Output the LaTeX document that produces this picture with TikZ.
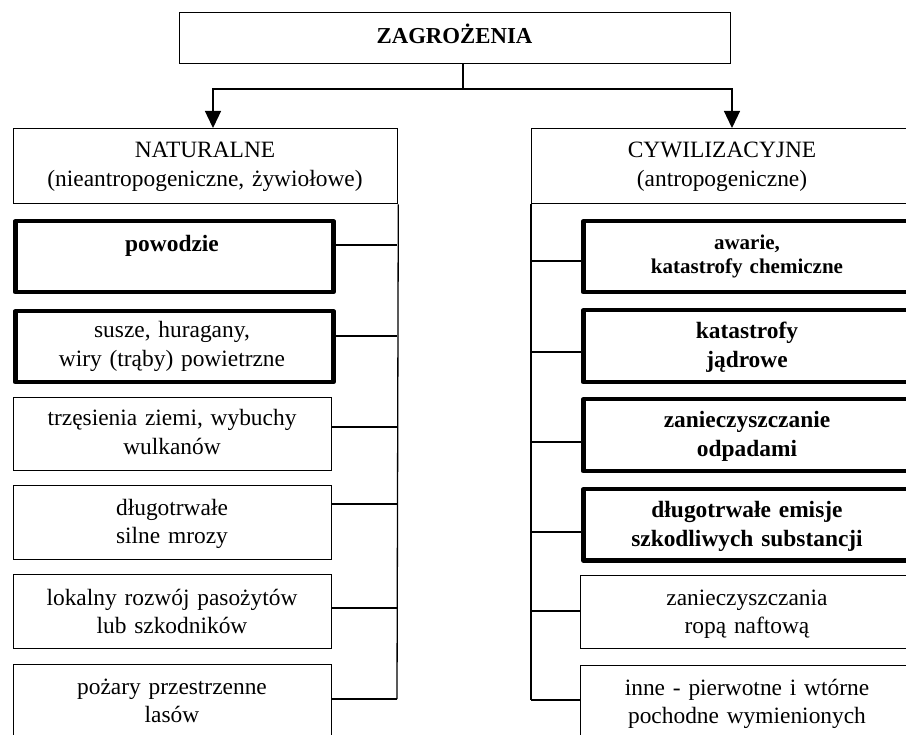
\documentclass[tikz,border=0pt]{standalone}
\usepackage{fontspec}
\setmainfont{Liberation Serif}
\usetikzlibrary{arrows.meta,calc}
\begin{document}
\begin{tikzpicture}[x=1pt,y=-1pt,
  frame/.style={draw, rectangle, line width=1.3pt, anchor=north west, inner sep=0pt},
  heavy/.style={frame, line width=4.5pt, line join=round},
  lbl/.style={anchor=base, inner sep=0pt, text width=330pt, align=center,
    font=\fontsize{23.4}{28.5}\selectfont},
  lblb/.style={lbl, font=\fontsize{23.4}{28.5}\selectfont\bfseries},
  wire/.style={line width=1.3pt},
  arr/.style={wire, -{Triangle[width=16pt,length=17pt]}}]
\useasboundingbox (0,0) rectangle (906,735);
\clip (0,0) rectangle (906,735);

% root
\node[frame, minimum width=551pt, minimum height=51pt] (top) at (179,12) {};
\node[lbl, font=\fontsize{22.8}{27}\selectfont\bfseries] (ttop) at (454.5,44) {ZAGROŻENIA};

% two main groups
\node[frame, minimum width=384pt, minimum height=75pt] (nat) at (13,128) {};
\node[lbl] (tnat) at (205,158) {NATURALNE\\(nieantropogeniczne, żywiołowe)};
\node[frame, minimum width=381pt, minimum height=75pt] (cyw) at (531,128) {};
\node[lbl] (tcyw) at (722,158) {CYWILIZACYJNE\\(antropogeniczne)};

\coordinate (split) at (463,89);
\coordinate (natin) at (213,128);
\coordinate (cywin) at (732,128);
\draw[wire] (top.south -| split) -- (split);
\draw[arr] (split) -| (natin);
\draw[arr] (split) -| (cywin);

% natural hazards
\node[heavy, minimum width=318pt, minimum height=71pt] (n1) at (13,219) {};
\node[lblb] (tn1) at (172,252) {powodzie};
\node[heavy, minimum width=318pt, minimum height=71pt] (n2) at (13,309) {};
\node[lbl] (tn2) at (172,338) {susze, huragany,\\wiry (trąby) powietrzne};
\node[frame, minimum width=318pt, minimum height=73pt] (n3) at (13,397) {};
\node[lbl] (tn3) at (172,426) {trzęsienia ziemi, wybuchy\\wulkanów};
\node[frame, minimum width=318pt, minimum height=74pt] (n4) at (13,485) {};
\node[lbl] (tn4) at (172,515) {długotrwałe\\silne mrozy};
\node[frame, minimum width=318pt, minimum height=74pt] (n5) at (13,574) {};
\node[lbl] (tn5) at (172,605) {lokalny rozwój pasożytów\\lub szkodników};
\node[frame, minimum width=318pt, minimum height=85pt] (n6) at (13,664) {};
\node[lbl] (tn6) at (172,694) {pożary przestrzenne\\lasów};

% civilisation hazards
\node[heavy, minimum width=333pt, minimum height=71pt] (c1) at (581,219) {};
\node[lbl, font=\fontsize{21}{23.5}\selectfont\bfseries] (tc1) at (747,250) {awarie,\\katastrofy chemiczne};
\node[heavy, minimum width=333pt, minimum height=72pt] (c2) at (581,308) {};
\node[lblb] (tc2) at (747,339) {katastrofy\\jądrowe};
\node[heavy, minimum width=333pt, minimum height=72pt] (c3) at (581,397) {};
\node[lblb] (tc3) at (747,428) {zanieczyszczanie\\odpadami};
\node[heavy, minimum width=333pt, minimum height=71pt] (c4) at (581,487) {};
\node[lblb] (tc4) at (747,518) {długotrwałe emisje\\szkodliwych substancji};
\node[frame, minimum width=333pt, minimum height=73pt] (c5) at (580,575) {};
\node[lbl] (tc5) at (747,605) {zanieczyszczania\\ropą naftową};
\node[frame, minimum width=333pt, minimum height=85pt] (c6) at (580,665) {};
\node[lbl] (tc6) at (747,695) {inne - pierwotne i wtórne\\pochodne wymienionych};

% left bus
\coordinate (l1) at (397,245);
\coordinate (l2) at (397,336);
\coordinate (l3) at (397,427);
\coordinate (l4) at (397,504);
\coordinate (l5) at (397,608);
\coordinate (l6) at (397,699);
\draw[wire] (nat.south east) -- (l6);
\foreach \i in {1,...,6} \draw[wire] (l\i -| n\i.east) -- (l\i);

% right bus
\coordinate (r1) at (531,261);
\coordinate (r2) at (531,352);
\coordinate (r3) at (531,442);
\coordinate (r4) at (531,532);
\coordinate (r5) at (531,611);
\coordinate (r6) at (531,700);
\draw[wire] (cyw.south west) -- (r6);
\foreach \i in {1,...,6} \draw[wire] (r\i) -- (r\i -| c\i.west);
\end{tikzpicture}
\end{document}
